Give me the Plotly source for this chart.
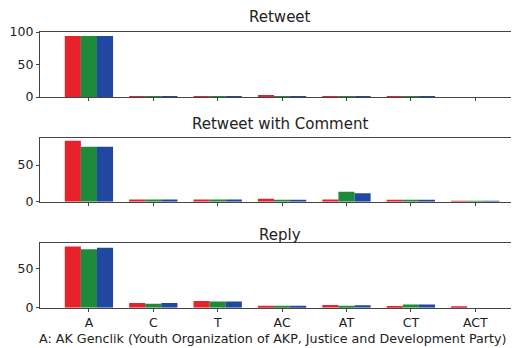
import plotly.graph_objects as go

categories = ["A", "C", "T", "AC", "AT", "CT", "ACT"]

retweet_red = [94, 1, 1, 2, 0.5, 0.5, 0]
retweet_green = [94, 0.5, 0.5, 1, 0.3, 0.3, 0]
retweet_blue = [94, 1, 1, 0.5, 0.3, 0.3, 0]

comment_red = [83, 3, 3, 4, 3, 2.5, 0.5]
comment_green = [75, 3, 3, 2.5, 13.5, 2.5, 0.3]
comment_blue = [75, 3, 3, 2.5, 11.5, 2.5, 0.3]

reply_red = [77.5, 6, 8.5, 2.5, 3.5, 2, 1]
reply_green = [74, 5, 8, 2.5, 2.5, 4, 0]
reply_blue = [76, 6, 8, 2.5, 3, 4, 0]

panel_titles = ["Retweet", "Retweet with Comment", "Reply"]
footer = "A: AK Genclik (Youth Organization of AKP, Justice and Development Party)"

colors = ["#e8222a", "#1e8a3c", "#2148a0"]
# page has an 8px body margin; the figure fills the rest of the 519x348 window
OFF = 8
W, H = 519 - OFF, 348 - OFF


def px_x(x):
    return (x - OFF) / W


def px_y(y):
    return 1 - (y - OFF) / H


panels = [
    (retweet_red, retweet_green, retweet_blue),
    (comment_red, comment_green, comment_blue),
    (reply_red, reply_green, reply_blue),
]
# screenshot-pixel extents (top, bottom) of each axes box
boxes = [(32, 97), (137.7, 201.7), (243.3, 307.7)]
yranges = [[0, 100], [0, 87.3], [0, 81.7]]
title_y = [17, 124, 235]

fig = go.Figure()
font = "DejaVu Sans"
for i, (vals, box) in enumerate(zip(panels, boxes)):
    xa = "x" if i == 0 else f"x{i+1}"
    ya = "y" if i == 0 else f"y{i+1}"
    for v, c in zip(vals, colors):
        fig.add_trace(go.Bar(x=categories, y=v, marker=dict(color=c, line=dict(width=0)),
                             xaxis=xa, yaxis=ya, showlegend=False))
    suffix = "" if i == 0 else str(i + 1)
    fig.layout["xaxis" + suffix] = dict(
        domain=[px_x(40), 1], anchor=ya, range=[-0.76, 6.68], automargin=False,
        showline=True, linecolor="#444", linewidth=1.3, mirror=True,
        ticks="outside", ticklen=3, tickcolor="#444",
        showticklabels=(i == 2), showgrid=False, zeroline=False,
        tickfont=dict(family=font, size=12.5, color="#222"),
    )
    fig.layout["yaxis" + suffix] = dict(
        domain=[px_y(box[1]), px_y(box[0])], anchor=xa, range=yranges[i],
        automargin=False,
        tickvals=[0, 50, 100], showline=True, linecolor="#444", linewidth=1.3,
        ticks="outside", ticklen=3, tickcolor="#444", showgrid=False, zeroline=False,
        tickfont=dict(family=font, size=12.5, color="#222"),
    )
    fig.add_annotation(text=panel_titles[i], x=px_x(280), y=px_y(title_y[i]),
                       xref="paper", yref="paper", showarrow=False,
                       xanchor="center", yanchor="middle",
                       font=dict(family=font, size=15, color="#222"))

fig.add_annotation(text=footer, x=px_x(37), y=px_y(338), xref="paper", yref="paper",
                   showarrow=False, xanchor="left", yanchor="middle",
                   font=dict(family=font, size=12.7, color="#222"))

fig.update_layout(
    width=W, height=H, margin=dict(l=0, r=0, t=0, b=0, autoexpand=False),
    paper_bgcolor="white", plot_bgcolor="white",
    barmode="group", bargap=0.25, bargroupgap=0,
)
fig.write_html("out.html")
